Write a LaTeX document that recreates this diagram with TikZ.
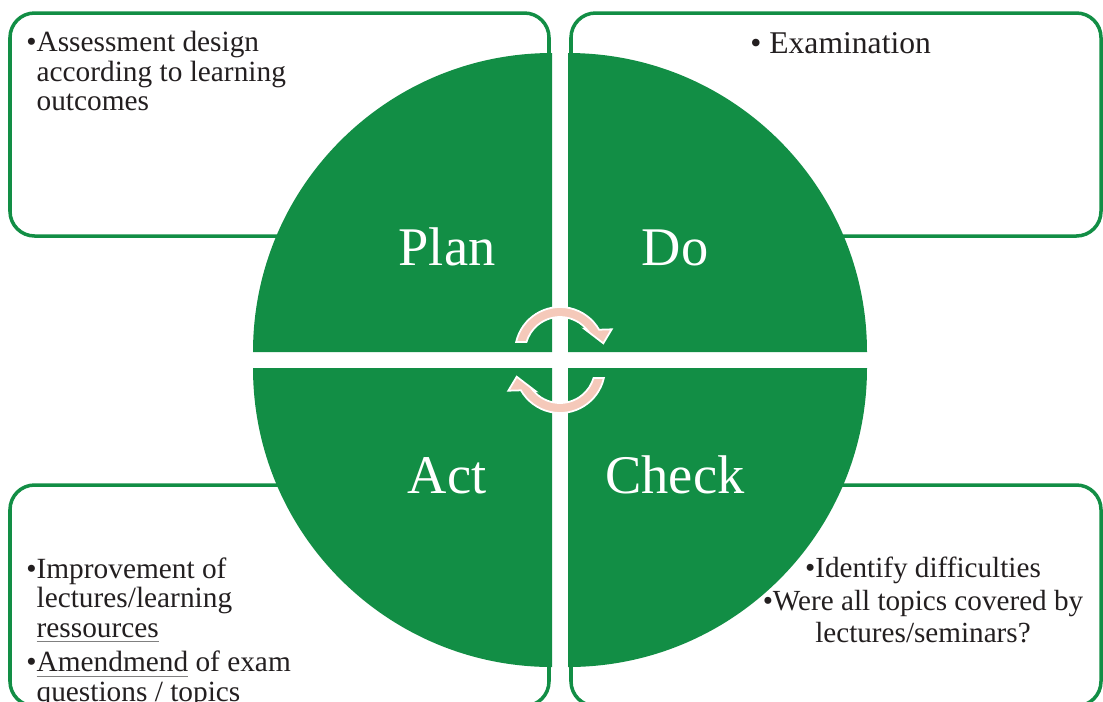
\documentclass[tikz,border=0pt]{standalone}
\usepackage{fontspec}
\setmainfont{Liberation Serif}
\definecolor{pdgreen}{RGB}{18,142,69}
\definecolor{arrowpink}{RGB}{245,201,186}
\definecolor{txt}{RGB}{35,31,32}
\newsavebox{\myulbox}
\newcommand{\grayul}[1]{\sbox{\myulbox}{#1}\rlap{\textcolor{gray}{\rule[-0.4ex]{\wd\myulbox}{0.6pt}}}\usebox{\myulbox}}
\tikzset{
  infobox/.style={draw=pdgreen, line width=2pt, rounded corners=14pt, fill=white},
  sector/.style={fill=pdgreen},
  cyclearrow/.style={fill=arrowpink, draw=white, line width=1pt, line join=miter},
  bodytext/.style={text=txt, font=\fontsize{16.7pt}{16.8pt}\selectfont, inner sep=0pt, align=left},
  phase/.style={text=white, font=\fontsize{31pt}{36pt}\selectfont, inner sep=0pt, anchor=base},
}
\begin{document}
\begin{tikzpicture}[x=0.02cm, y=-0.02cm]
\useasboundingbox (0,0) rectangle (1103,701);
\clip (0,0) rectangle (1103,701);
% boxes
\draw[infobox] (10,13) rectangle (549,236);
\draw[infobox] (571,13) rectangle (1101,236);
\draw[infobox] (10,485) rectangle (549,706);
\draw[infobox] (571,485) rectangle (1101,706);
% sectors
\fill[sector] (552,352) -- (253,352) arc[start angle=180, end angle=270, radius=299] -- cycle;
\fill[sector] (568,352) -- (568,53) arc[start angle=270, end angle=360, radius=299] -- cycle;
\fill[sector] (552,368) -- (552,667) arc[start angle=90, end angle=180, radius=299] -- cycle;
\fill[sector] (568,368) -- (867,368) arc[start angle=0, end angle=90, radius=299] -- cycle;
% cycle arrows
\begin{scope}[shift={(560,352)}]
\filldraw[cyclearrow] (192.8:45) arc[start angle=192.8, end angle=330.3, radius=45]
  -- (51.7,-22.7) -- (43.3,-8.7) -- (25,-22.7) -- (320.5:35)
  arc[start angle=320.5, end angle=196.6, radius=35] -- cycle;
\end{scope}
\begin{scope}[shift={(560,368)}, rotate=180]
\filldraw[cyclearrow] (192.8:45) arc[start angle=192.8, end angle=330.3, radius=45]
  -- (51.7,-22.7) -- (43.3,-8.7) -- (25,-22.7) -- (320.5:35)
  arc[start angle=320.5, end angle=196.6, radius=35] -- cycle;
\end{scope}
% phase labels
\node[phase] (plan) at (447,265) {Plan};
\node[phase] (do) at (675,265) {Do};
\node[phase] (act) at (447,493) {Act};
\node[phase] (check) at (675,493) {Check};
% box texts
\node[bodytext, anchor=north west] (plantext) at (26,31)
  {\textbullet Assessment design\\\phantom{\textbullet}according to learning\\\phantom{\textbullet}outcomes};
\node[bodytext, anchor=base west, font=\fontsize{18pt}{20pt}\selectfont] (dotext) at (750,53) {\textbullet\ Examination};
\node[bodytext, anchor=north west] (acttext) at (26,557)
  {\textbullet Improvement of\\\phantom{\textbullet}lectures/learning\\\phantom{\textbullet}\grayul{ressources}\\[3pt]\textbullet\grayul{Amendmend} of exam\\\phantom{\textbullet}questions / topics};
\node[bodytext, align=center, anchor=north, font=\fontsize{16.6pt}{18.4pt}\selectfont] (checktext) at (923,557)
  {\textbullet Identify difficulties\\\textbullet Were all topics covered by\\lectures/seminars?};
\end{tikzpicture}
\end{document}
